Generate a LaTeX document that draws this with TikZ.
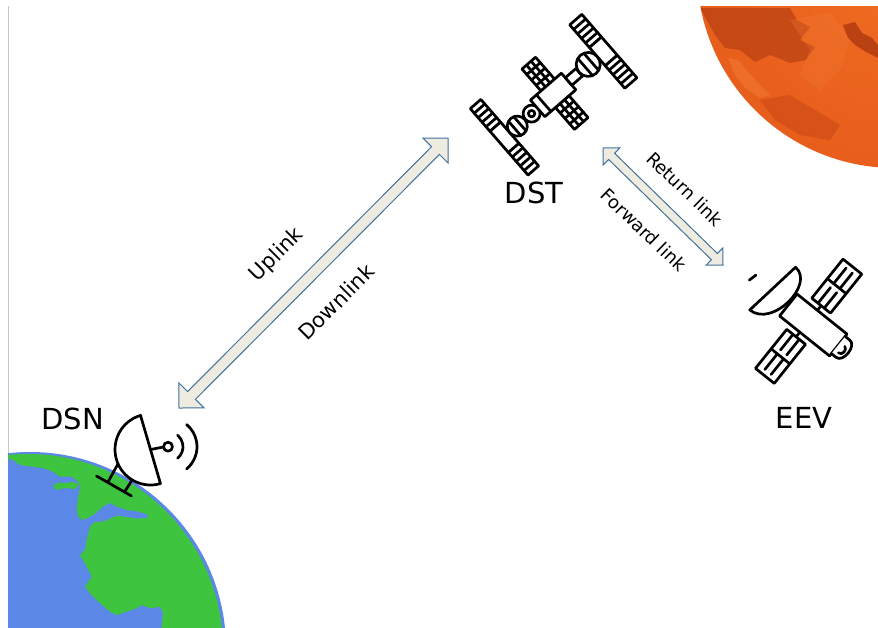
\documentclass[tikz,border=0pt]{standalone}
\usepackage{fontspec}
\setmainfont{DejaVu Sans}
\usetikzlibrary{calc}

\definecolor{ocean}{HTML}{5B87E6}
\definecolor{land}{HTML}{3EC43E}
\definecolor{arrowfill}{HTML}{EEECE1}
\definecolor{arrowline}{HTML}{41719C}
\definecolor{marsA}{HTML}{F06C22}
\definecolor{marsB}{HTML}{E85E1C}
\definecolor{marsC}{HTML}{DE541A}
\definecolor{marsD}{HTML}{CF4917}
\definecolor{marsE}{HTML}{BC3D12}
\definecolor{marsF}{HTML}{9E2E0C}
\definecolor{marsDark}{HTML}{A3320F}
\definecolor{marsLight}{HTML}{F27A34}

\pgfdeclareradialshading{marsglow}{\pgfpoint{0bp}{0bp}}{%
  color(0bp)=(marsA); color(25bp)=(marsB); color(34bp)=(marsC);
  color(42bp)=(marsD); color(47bp)=(marsE); color(50bp)=(marsF)}

% block double arrow between two named points:
% #1 style, #2 from, #3 to, #4 head length (= head half width), #5 shaft half width
\newcommand{\linkarrow}[5]{%
  \draw[#1] (#2)
    -- ($(#2)!#4!(#3)!#4!90:(#3)$) -- ($(#2)!#4!(#3)!#5!90:(#3)$)
    -- ($(#3)!#4!(#2)!#5!-90:(#2)$) -- ($(#3)!#4!(#2)!#4!-90:(#2)$)
    -- (#3)
    -- ($(#3)!#4!(#2)!#4!90:(#2)$) -- ($(#3)!#4!(#2)!#5!90:(#2)$)
    -- ($(#2)!#4!(#3)!#5!-90:(#3)$) -- ($(#2)!#4!(#3)!#4!-90:(#3)$)
    -- cycle;}

\tikzset{
  icon/.style={line width=2.7pt, line join=round, line cap=round, draw=black},
  linkbody/.style={fill=arrowfill, draw=arrowline, line width=1pt, line join=miter},
  biglabel/.style={inner sep=0pt, font=\fontsize{29}{34}\selectfont},
  linklabel/.style={inner sep=0pt, font=\fontsize{21}{25}\selectfont},
  smalllabel/.style={inner sep=0pt, font=\fontsize{18}{22}\selectfont},
}

\begin{document}
\begin{tikzpicture}[x=1pt,y=1pt]
\useasboundingbox (0,0) rectangle (878,-627);
\fill[white] (0,0) rectangle (878,-627);

% slide edge
\draw[gray!45, line width=0.8pt] (8,-6) -- (8,-627);

% ---------- Earth ----------
\begin{scope}
  \clip (8,-6) rectangle (878,-627);
  \fill[ocean] (30,-648) circle (196);
  \begin{scope}
    \clip (28,-649) circle (195);
    \fill[land] (0,-430) -- (300,-430) -- (300,-640) -- (162,-640)
      -- (161.7,-627) -- (163,-613) -- (160,-606.7) -- (150,-608.3)
      -- (141.7,-605) -- (136.7,-608.3) -- (116.7,-615) -- (110,-611.7)
      -- (100,-603.3) -- (90,-593.3) -- (85,-586.7) -- (91.7,-576.7)
      -- (86.7,-566.7) -- (80,-555) -- (85,-550) -- (86.7,-540)
      -- (90,-526.7) -- (96,-520) -- (90,-516.7) -- (83,-520)
      -- (78,-516.7) -- (76.7,-508) -- (78,-498) -- (80,-488)
      -- (78,-481.7) -- (71.7,-476.7) -- (60,-476.7) -- (53,-471.7)
      -- (43,-468) -- (33,-466.7) -- (20,-465) -- (13,-460) -- (0,-457) -- cycle;
    % channel between the northern coast and the southern continent
    \fill[ocean] (88,-518.5) -- (96,-513) -- (103,-506.7) -- (110,-503)
      -- (116.7,-506.7) -- (126.7,-510) -- (140,-512) -- (148,-515)
      -- (147,-518) -- (136.7,-518.5) -- (126.7,-517) -- (116.7,-515.5)
      -- (103.3,-521.5) -- (92,-522) -- cycle;
    % island
    \fill[land] (53,-486) -- (58,-482.5) -- (66,-483) -- (72,-481.7)
      -- (78,-484) -- (76,-489) -- (65,-488) -- (56,-490) -- cycle;
  \end{scope}
\end{scope}

% ---------- Mars ----------
\begin{scope}
  \clip (8,-6) rectangle (878,-627);
  \path[shading=marsglow] (895,30) circle (198);
  \begin{scope}
    \clip (895,30) circle (198);
    \fill[marsDark, opacity=0.5] (700,-8) -- (790,-8) -- (797,-20) -- (810,-27)
      -- (800,-40) -- (815,-47) -- (806,-60) -- (790,-63) -- (770,-55)
      -- (755,-62) -- (740,-50) -- (725,-48) -- (715,-35) -- cycle;
    \fill[marsF, opacity=0.65] (843,-25) -- (855,-22) -- (862,-33) -- (872,-38)
      -- (878,-45) -- (878,-58) -- (866,-52) -- (855,-45) -- (848,-38) -- cycle;
    \fill[marsLight, opacity=0.55] (728,-58) -- (738,-60) -- (748,-72) -- (760,-85)
      -- (770,-95) -- (760,-98) -- (745,-88) -- (735,-75) -- cycle;
    \fill[marsLight, opacity=0.3] (790,-20) -- (830,-12) -- (850,-40) -- (840,-70)
      -- (820,-90) -- (800,-75) -- (810,-50) -- cycle;
    \fill[marsE, opacity=0.4] (760,-100) -- (790,-95) -- (815,-110) -- (840,-125)
      -- (830,-140) -- (800,-135) -- (775,-120) -- cycle;
  \end{scope}
\end{scope}

% ---------- link arrows ----------
\coordinate (dsnport) at (179,-408);
\coordinate (dstportA) at (448,-138);
\coordinate (dstportB) at (603,-148);
\coordinate (eevport) at (723,-265);
\linkarrow{linkbody}{dsnport}{dstportA}{17.7pt}{5.5pt}
\linkarrow{linkbody}{dstportB}{eevport}{12pt}{4.3pt}

% ---------- DST station ----------
\coordinate (dst) at (555,-93.3);
\begin{scope}[shift={(dst)}, rotate=41, icon]
  % central panels
  \foreach \s in {1,-1}{
    \draw[fill=white] (-9,11*\s) rectangle (9,40*\s);
    \draw (-3,11*\s) -- (-3,40*\s) (3,11*\s) -- (3,40*\s);
    \draw (-9,18.25*\s) -- (9,18.25*\s) (-9,25.5*\s) -- (9,25.5*\s)
          (-9,32.75*\s) -- (9,32.75*\s);
  }
  % end panels
  \foreach \s in {1,-1}{
    \draw[fill=white] (-74,14*\s) rectangle (-60,44*\s);
    \foreach \k in {20,26,32,38} \draw (-74,\k*\s) -- (-60,\k*\s);
    \draw[fill=white] (56,12*\s) rectangle (72,42*\s);
    \foreach \k in {18,24,30,36} \draw (56,\k*\s) -- (72,\k*\s);
  }
  % lower truss and modules
  \draw[fill=white] (-74,-14) rectangle (-60,14);
  \draw[fill=white] (-50,0) circle (10);
  \draw (-53.5,-9.4) -- (-53.5,9.4) (-46.5,-9.4) -- (-46.5,9.4);
  \draw[fill=white] (-31,0) circle (8.5);
  \draw (-31,0) circle (3.2);
  \draw[fill=white] (-23,-11) rectangle (18,11);
  \draw (-15,-11) -- (-15,11);
  \draw[fill=white] (18,-5) rectangle (32,5);
  \draw[fill=white] (44,0) circle (12);
  \draw (40,-11.3) -- (40,11.3) (48,-11.3) -- (48,11.3);
  \draw[fill=white] (56,-12) rectangle (72,12);
\end{scope}

% ---------- EEV spacecraft ----------
\coordinate (eev) at (813.3,-325);
\begin{scope}[shift={(eev)}, rotate=-38.7, icon]
  \foreach \s in {1,-1}{
    \draw (-6,14*\s) -- (-6,20*\s);
    \draw[fill=white] (-18,20*\s) rectangle (6,70*\s);
    \draw (-18,45*\s) -- (6,45*\s);
    \foreach \xx in {-10,-2}{
      \draw (\xx,20*\s) -- (\xx,40*\s);
      \draw (\xx,45*\s) -- (\xx,65*\s);
    }
  }
  \draw[fill=white] (-32,-14) rectangle (32,14);
  \draw[fill=white] (32,11) -- (38,11) .. controls (47,11) and (47,-11) .. (38,-11) -- (32,-11);
  \draw (37,-6) .. controls (42,-6) and (42,2) .. (38,3);
  \draw (-40,1) -- (-32,1);
  \draw[fill=white] (-50,34) .. controls (-24,33) and (-30,-28) .. (-59,-28) -- cycle;
  \draw (-78,-5) -- (-76,3);
\end{scope}

% ---------- DSN ground antenna ----------
\coordinate (dsn) at (150.5,-449.5);
\begin{scope}[icon]
  \draw (119,-462) -- (108,-482);
  \draw (134,-477) -- (124.5,-492);
  \draw (96.5,-476) -- (131.5,-496);
  \draw[fill=white] (dsn) ++(106.3:35.5) arc[start angle=106.3, end angle=286.3, radius=35.5] -- cycle;
  \draw (dsn) -- (163.5,-447);
  \draw (168,-446.7) circle (4.5);
  \draw (168,-446.7) ++(-50:15) arc[start angle=-50, end angle=50, radius=15];
  \draw (168,-446.7) ++(-50:29) arc[start angle=-50, end angle=50, radius=29];
\end{scope}

% ---------- labels ----------
\node[biglabel] (dstlabel) at (534,-193) {DST};
\node[biglabel] (dsnlabel) at (72.5,-419) {DSN};
\node[biglabel] (eevlabel) at (804,-418) {EEV};
\node[linklabel, rotate=45] (uplabel) at (277,-255) {Uplink};
\node[linklabel, rotate=45] (downlabel) at (336,-302) {Downlink};
\node[smalllabel, rotate=-44] (retlabel) at (685,-189) {Return link};
\node[smalllabel, rotate=-44] (fwdlabel) at (644,-230) {Forward link};
\end{tikzpicture}
\end{document}
